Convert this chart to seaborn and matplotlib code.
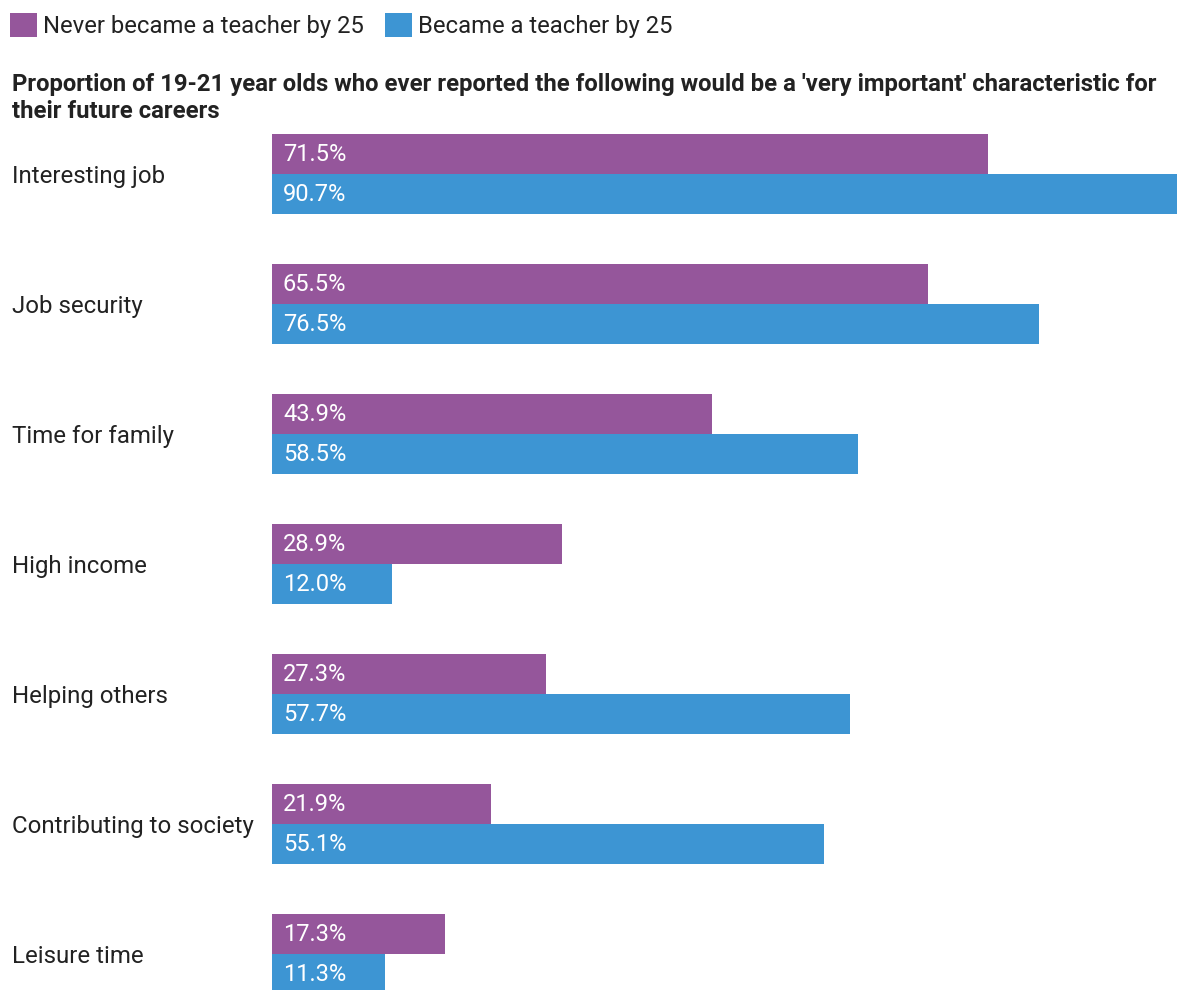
import matplotlib
matplotlib.use("Agg")
import matplotlib.pyplot as plt
import matplotlib.transforms as mtransforms
import seaborn as sns
import pandas as pd

categories = ["Interesting job", "Job security", "Time for family", "High income",
              "Helping others", "Contributing to society", "Leisure time"]
never_teacher = [71.5, 65.5, 43.9, 28.9, 27.3, 21.9, 17.3]
became_teacher = [90.7, 76.5, 58.5, 12.0, 57.7, 55.1, 11.3]
series_names = ["Never became a teacher by 25", "Became a teacher by 25"]
colors = ["#95569B", "#3D95D3"]
title = ("Proportion of 19-21 year olds who ever reported the following would be a 'very important' characteristic for\n"
         "their future careers")

df = pd.DataFrame({
    "category": categories * 2,
    "value": never_teacher + became_teacher,
    "group": [series_names[0]] * len(categories) + [series_names[1]] * len(categories),
})

sns.set_theme(style="white")
plt.rcParams["font.family"] = ["Roboto", "DejaVu Sans"]

W, H = 1177, 990
fig = plt.figure(figsize=(W / 100, H / 100), dpi=100)
ax = fig.add_axes([272 / W, 0, 1 - 272 / W, 1 - 134 / H])

sns.barplot(data=df, y="category", x="value", hue="group", order=categories,
            hue_order=series_names, palette=colors, orient="h", width=80 / 130,
            saturation=1, edgecolor="none", linewidth=0, ax=ax, legend=True)

ax.set_xlim(0, 905 / 10.02)
ax.set_ylim(6 + 36 / 130, -40 / 130)
for s in ax.spines.values():
    s.set_visible(False)
ax.set_xticks([])
ax.set_xlabel("")
ax.set_ylabel("")
ax.tick_params(axis="y", length=0, pad=260 * 0.72, labelsize=17.3, labelcolor="#222222")
for lab in ax.get_yticklabels():
    lab.set_ha("left")

offset = mtransforms.offset_copy(ax.transData, fig=fig, x=11 * 0.72, y=0, units="points")
for cont in ax.containers:
    for p in cont.patches:
        ax.text(0, p.get_y() + p.get_height() / 2 + 0.005,
                f"{p.get_width():.1f}%", transform=offset, ha="left", va="center",
                color="white", fontsize=17)

leg = ax.get_legend()
handles = leg.legend_handles
leg.remove()
fig.legend(handles, series_names, loc="upper left", bbox_to_anchor=(10 / W, 1 - 13 / H),
           ncol=2, frameon=False, fontsize=17.2, handlelength=1.15, handleheight=1.15,
           handletextpad=0.25, columnspacing=0.85, borderpad=0, borderaxespad=0,
           labelcolor="#222222")

fig.text(12 / W, 1 - 73 / H, title, ha="left", va="top", fontsize=17.2,
         fontweight="bold", color="#222222", linespacing=1.2)

fig.savefig("out.png", dpi=100)
